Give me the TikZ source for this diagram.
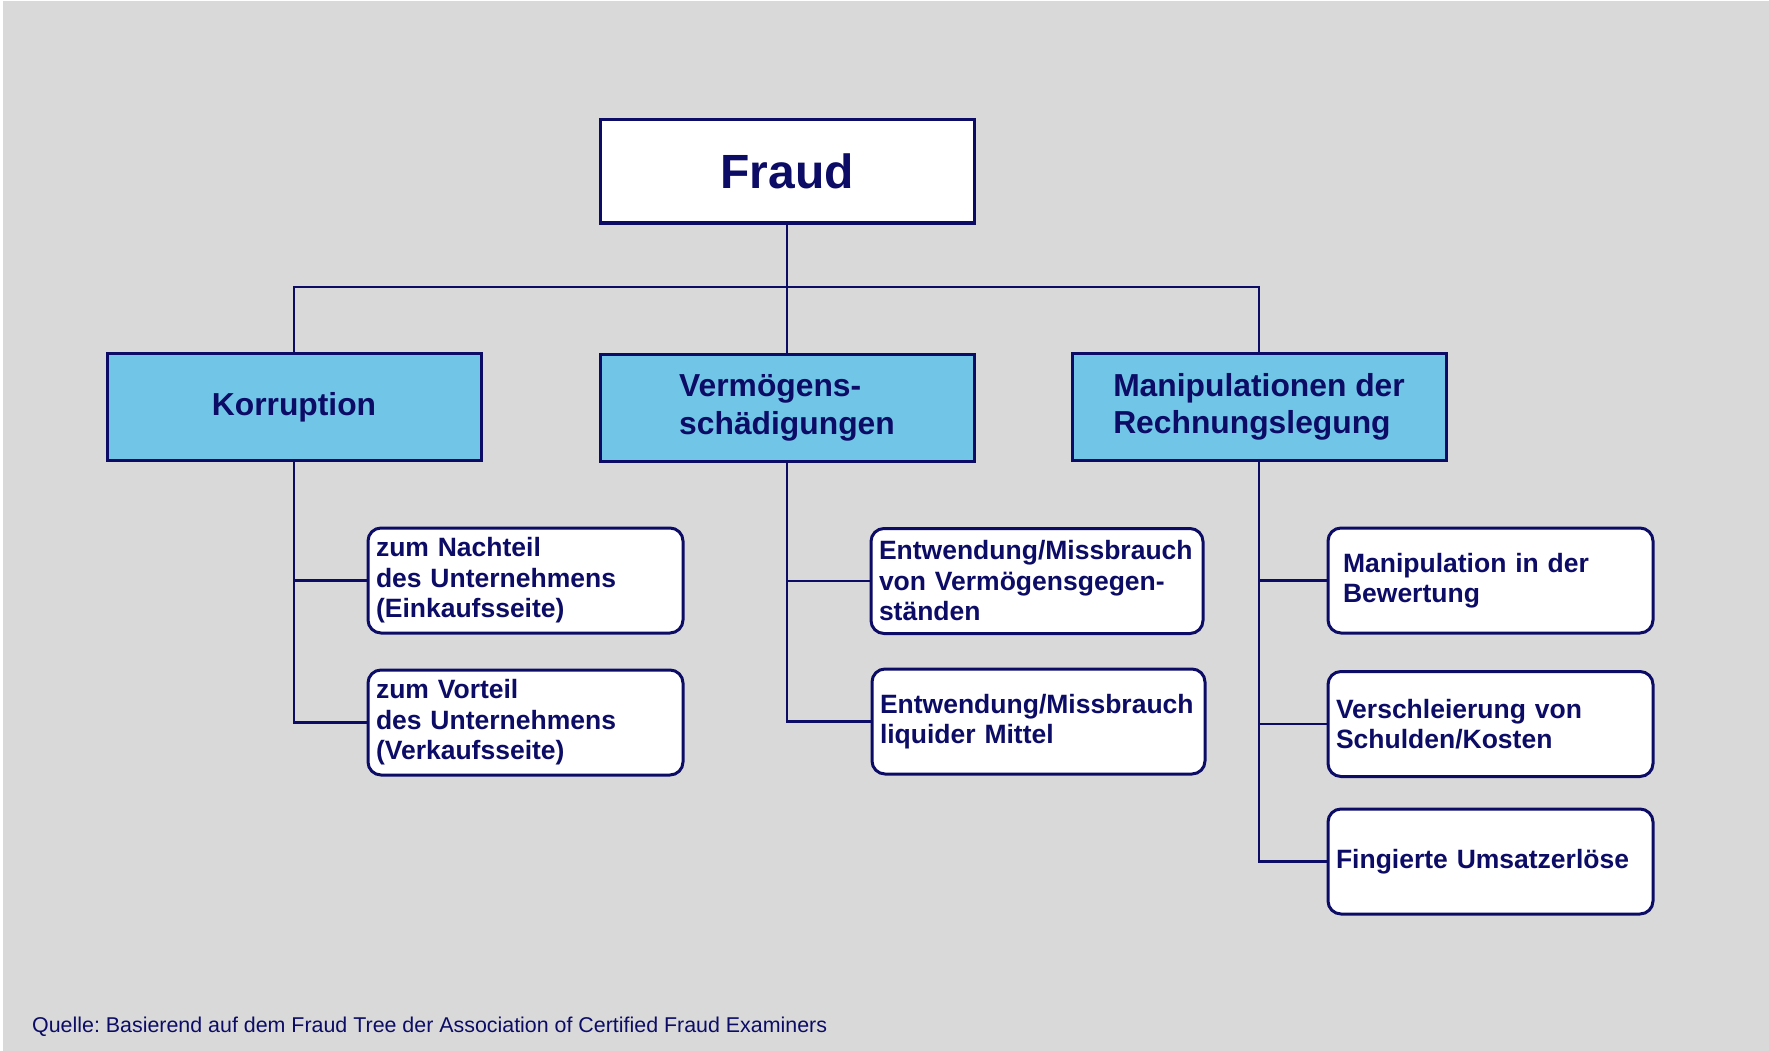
\documentclass[tikz,border=0pt]{standalone}
\usepackage{fontspec}
\setmainfont{Liberation Sans}
\frenchspacing
\definecolor{navy}{RGB}{12,12,102}
\definecolor{bluefill}{RGB}{113,197,230}
\definecolor{bgcol}{RGB}{217,217,217}
\begin{document}
\begin{tikzpicture}[x=1pt,y=-1pt,
  conn/.style={draw=navy, line width=2.5pt},
  topbox/.style={draw=navy, line width=3pt, fill=white, minimum width=374pt, minimum height=103pt, inner sep=0pt, font=\fontsize{48}{52}\selectfont\bfseries, text=navy},
  catbox/.style={draw=navy, line width=3pt, fill=bluefill, minimum width=374pt, minimum height=107pt, inner sep=0pt, align=left, font=\fontsize{31.8}{37.5}\selectfont\bfseries, text=navy},
  leafbox/.style={draw=navy, line width=3pt, fill=white, rounded corners=13pt, minimum height=105pt, inner xsep=8pt, inner ysep=0pt, align=left, font=\fontsize{26.5}{30.5}\selectfont\bfseries, text=navy},
]
\useasboundingbox (0,0) rectangle (1769,1051);
\fill[white] (0,0) rectangle (1769,1051);
\fill[bgcol] (3,1) rectangle (1769,1051);

\node[topbox] (fraud) at (787,171.5) {Fraud};

\node[catbox] (korr) at (294,407) {Korruption};
\node[catbox] (verm) at (787,408) {Vermögens-\\schädigungen};
\node[catbox] (manip) at (1259,407) {Manipulationen der\\Rechnungslegung};

\node[leafbox, text width=299pt] (k1) at (525.5,580.5) {zum Nachteil\\des Unternehmens\\(Einkaufsseite)};
\node[leafbox, text width=299pt] (k2) at (525.5,722.5) {zum Vorteil\\des Unternehmens\\(Verkaufsseite)};

\node[leafbox, text width=316pt] (v1) at (1037,581) {Entwendung/Missbrauch\\von Vermögensgegen-\\ständen};
\node[leafbox, text width=317pt] (v2) at (1038.5,721.5) {Entwendung/Missbrauch\\liquider Mittel};

\node[leafbox, inner xsep=15pt, text width=295pt] (m1) at (1490.5,580.5) {Manipulation in der\\Bewertung};
\node[leafbox, text width=309pt] (m2) at (1490.5,724) {Verschleierung von\\Schulden/Kosten};
\node[leafbox, text width=309pt] (m3) at (1490.5,861.5) {Fingierte Umsatzerlöse};

\coordinate (hub) at (787,287);
\draw[conn] (fraud.south) -- (hub);
\draw[conn] (hub) -| (korr.north);
\draw[conn] (hub) -- (verm.north);
\draw[conn] (hub) -| (manip.north);

\draw[conn] (korr.south) |- (k1.west);
\draw[conn] (korr.south) |- (k2.west);
\draw[conn] (verm.south) |- (v1.west);
\draw[conn] (verm.south) |- (v2.west);
\draw[conn] (manip.south) |- (m1.west);
\draw[conn] (manip.south) |- (m2.west);
\draw[conn] (manip.south) |- (m3.west);

\node[anchor=base west, inner sep=0pt, font=\fontsize{21.4}{24}\selectfont, text=navy] (src) at (32,1032) {Quelle: Basierend auf dem Fraud Tree der Association of Certified Fraud Examiners};
\end{tikzpicture}
\end{document}
